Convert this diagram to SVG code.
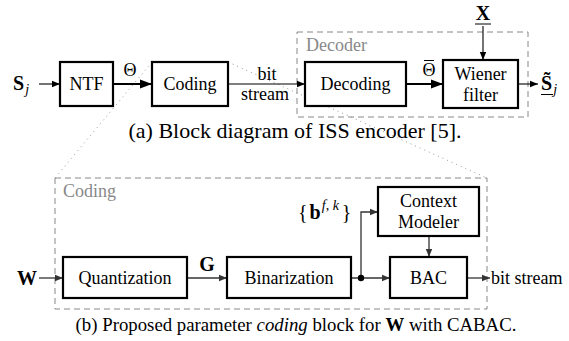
<svg xmlns="http://www.w3.org/2000/svg" width="569" height="341" viewBox="0 0 569 341" font-family="'Liberation Serif', 'Times New Roman', serif">
<defs>
<marker id="ah" markerUnits="userSpaceOnUse" markerWidth="10" markerHeight="8" refX="8" refY="4" orient="auto"><path d="M0,0.8 L8,4 L0,7.2 z" fill="#000"/></marker>
<marker id="ahg" markerUnits="userSpaceOnUse" markerWidth="10" markerHeight="8" refX="8" refY="4" orient="auto"><path d="M0,0.8 L8,4 L0,7.2 z" fill="#333"/></marker>
<marker id="ahk" markerUnits="userSpaceOnUse" markerWidth="13" markerHeight="10" refX="12" refY="5" orient="auto"><path d="M0,0.5 L12,5 L0,9.5 z" fill="#000"/></marker>
</defs>
<style>
text{font-family:'Liberation Serif',serif;font-size:18px;fill:#000}
.c{text-anchor:middle}
.box{fill:#fff;stroke:#000;stroke-width:2.2}
.dash{fill:none;stroke:#888;stroke-width:1;stroke-dasharray:6,4}
.dot{fill:none;stroke:#999;stroke-width:1;stroke-dasharray:1,4}
.gray{fill:#888}
.capa{font-size:22px}
.capb{font-size:18.8px}
.b{font-weight:bold}
.i{font-style:italic}
.m{font-size:20px}
.s{font-size:14px}
.thin{fill:none;stroke:#000;stroke-width:1.1}
.thick{fill:none;stroke:#000;stroke-width:2.2}
.bl{fill:none;stroke:#333;stroke-width:1.3}
</style>
<g id="frames">
<rect class="dash" x="297" y="32" width="231" height="85"/>
<rect class="dash" x="55" y="178" width="432" height="131"/>
<line class="dot" x1="152" y1="62" x2="55" y2="178"/>
<line class="dot" x1="228" y1="62" x2="487" y2="178"/>
<text class="gray" x="306" y="51">Decoder</text>
<text class="gray" x="63" y="197">Coding</text>
</g>
<g id="connectors">
<line class="thin" x1="39" y1="84" x2="60" y2="84" marker-end="url(#ah)"/>
<line class="thick" x1="113" y1="84" x2="152" y2="84" marker-end="url(#ahk)"/>
<line class="thin" x1="228" y1="84" x2="305" y2="84" marker-end="url(#ah)"/>
<line class="thick" x1="407" y1="84" x2="443" y2="84" marker-end="url(#ahk)"/>
<line class="thin" x1="483" y1="26" x2="483" y2="60" marker-end="url(#ah)"/>
<line class="thin" x1="519" y1="84" x2="538" y2="84" marker-end="url(#ah)"/>
<line class="bl" x1="39" y1="278" x2="63" y2="278" marker-end="url(#ahg)"/>
<line class="bl" x1="188" y1="278" x2="227" y2="278" marker-end="url(#ahg)"/>
<line class="bl" x1="352" y1="278" x2="390" y2="278" marker-end="url(#ahg)"/>
<polyline class="bl" points="361,278 361,212 378,212" marker-end="url(#ahg)"/>
<circle cx="361" cy="278" r="3.2" fill="#000"/>
<line class="bl" x1="429" y1="237" x2="429" y2="257" marker-end="url(#ahg)"/>
<line class="bl" x1="468" y1="278" x2="490" y2="278" marker-end="url(#ahg)"/>
</g>
<g id="labels">
<text x="13" y="90"><tspan class="b m">S</tspan><tspan class="i s" dx="1" dy="4">j</tspan></text>
<text class="c" x="130" y="76">Θ</text>
<text class="c" x="267" y="80">bit</text>
<text class="c" x="265" y="100">stream</text>
<text class="c" x="429" y="76">Θ</text>
<line x1="424" y1="60.5" x2="434" y2="60.5" stroke="#000" stroke-width="1"/>
<text class="c b m" x="483" y="20">X</text>
<line x1="475" y1="24" x2="491" y2="24" stroke="#000" stroke-width="1"/>
<text x="541" y="90"><tspan class="b m">S̃</tspan><tspan class="i s" dx="1" dy="4">j</tspan></text>
<line x1="541" y1="94.5" x2="553" y2="94.5" stroke="#000" stroke-width="1"/>
<text class="c capa" x="295" y="138">(a) Block diagram of ISS encoder [5].</text>
<text class="c b m" x="27" y="285">W</text>
<text class="c b m" x="207" y="271">G</text>
<text class="m" x="298" y="219">{<tspan class="b" dx="2">b</tspan><tspan class="i s" dx="1" dy="-9">f</tspan><tspan class="s">, </tspan><tspan class="i s">k</tspan><tspan dx="3" dy="9">}</tspan></text>
<text x="491" y="284">bit stream</text>
<text class="c capb" x="296" y="331">(b) Proposed parameter <tspan class="i">coding</tspan> block for <tspan class="b">W</tspan> with CABAC.</text>
</g>
<g id="ntf"><rect class="box" x="60" y="62" width="53" height="44"/><text class="c" x="86.5" y="90">NTF</text></g>
<g id="coding"><rect class="box" x="152" y="62" width="76" height="44"/><text class="c" x="190" y="90">Coding</text></g>
<g id="decoding"><rect class="box" x="305" y="62" width="101" height="44"/><text class="c" x="355.5" y="90">Decoding</text></g>
<g id="wiener"><rect class="box" x="443" y="60" width="75" height="48"/><text class="c" x="480.5" y="80">Wiener</text><text class="c" x="480.5" y="101">filter</text></g>
<g id="quantization"><rect class="box" x="63" y="257" width="124" height="41"/><text class="c" x="125" y="284">Quantization</text></g>
<g id="binarization"><rect class="box" x="227" y="257" width="124" height="41"/><text class="c" x="289" y="284">Binarization</text></g>
<g id="context"><rect class="box" x="378" y="187" width="101" height="49"/><text class="c" x="428.5" y="207">Context</text><text class="c" x="428.5" y="228">Modeler</text></g>
<g id="bac"><rect class="box" x="390" y="257" width="77" height="41"/><text class="c" x="428.5" y="284">BAC</text></g>
</svg>
